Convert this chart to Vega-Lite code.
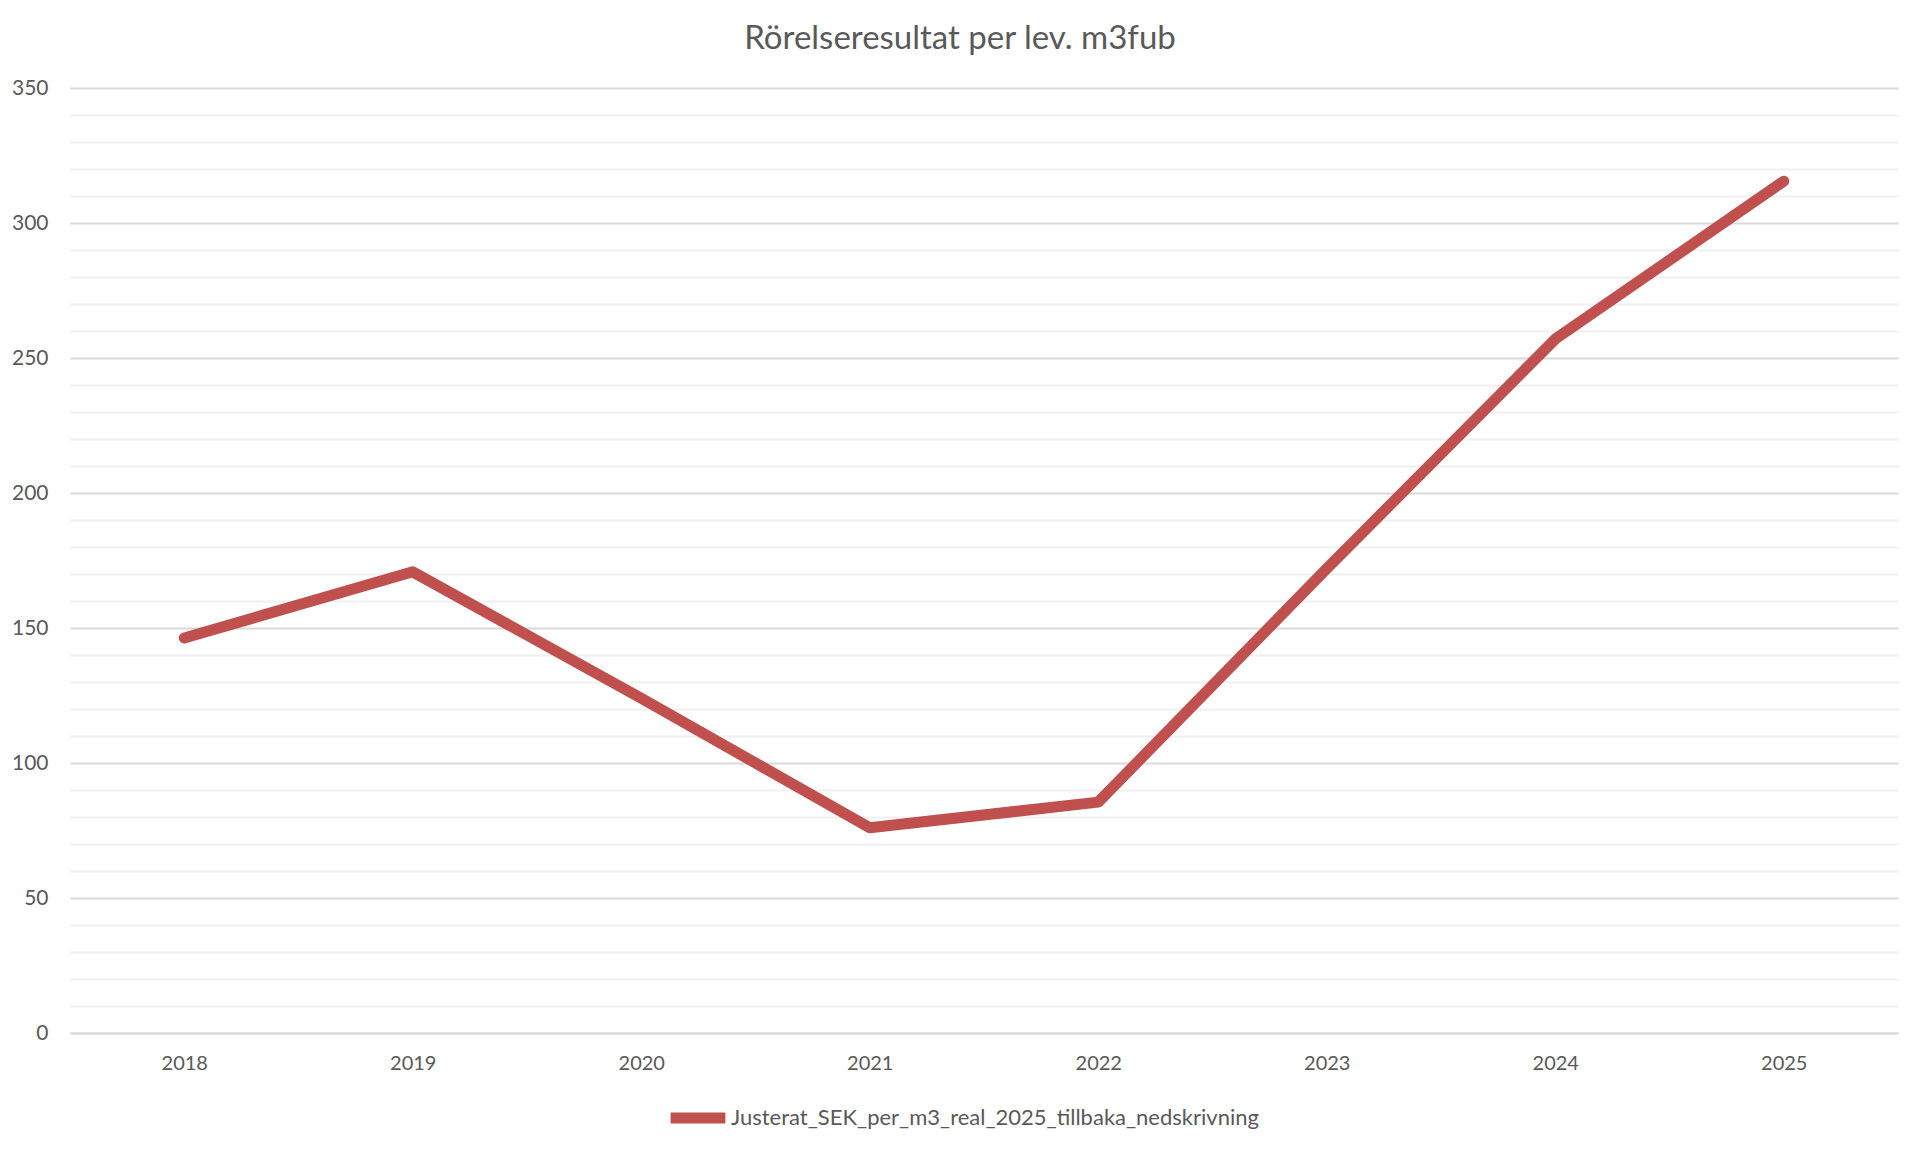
{
  "$schema": "https://vega.github.io/schema/vega-lite/v6.json",
  "autosize": {"type": "none"},
  "width": 1828,
  "height": 945,
  "padding": {"left": 70, "top": 88, "right": 22, "bottom": 117},
  "background": "white",
  "title": {
    "text": "Rörelseresultat per lev. m3fub",
    "font": "Lato",
    "fontSize": 33,
    "fontWeight": "normal",
    "color": "#595959",
    "anchor": "middle",
    "dx": -24,
    "offset": 21
  },
  "config": {
    "view": {"stroke": null},
    "font": "Lato"
  },
  "data": {
    "values": [
      {"year": "2018", "value": 146.3, "series": "Justerat_SEK_per_m3_real_2025_tillbaka_nedskrivning"},
      {"year": "2019", "value": 170.8, "series": "Justerat_SEK_per_m3_real_2025_tillbaka_nedskrivning"},
      {"year": "2020", "value": 124.0, "series": "Justerat_SEK_per_m3_real_2025_tillbaka_nedskrivning"},
      {"year": "2021", "value": 76.0, "series": "Justerat_SEK_per_m3_real_2025_tillbaka_nedskrivning"},
      {"year": "2022", "value": 85.5, "series": "Justerat_SEK_per_m3_real_2025_tillbaka_nedskrivning"},
      {"year": "2023", "value": 172.0, "series": "Justerat_SEK_per_m3_real_2025_tillbaka_nedskrivning"},
      {"year": "2024", "value": 257.0, "series": "Justerat_SEK_per_m3_real_2025_tillbaka_nedskrivning"},
      {"year": "2025", "value": 315.5, "series": "Justerat_SEK_per_m3_real_2025_tillbaka_nedskrivning"}
    ]
  },
  "layer": [
    {
      "mark": {"type": "line", "opacity": 0},
      "encoding": {
        "x": {
          "field": "year", "type": "ordinal", "scale": {"padding": 0.5},
          "axis": {
            "title": null, "labelAngle": 0, "labelFont": "Lato", "labelFontSize": 20,
            "labelColor": "#595959", "labelPadding": 20, "ticks": false,
            "domainColor": "#d9d9d9", "domainWidth": 2, "grid": false
          }
        },
        "y": {
          "field": "value", "type": "quantitative",
          "scale": {"domain": [0, 350], "nice": false},
          "axis": {
            "orient": "right",
            "values": [10,20,30,40,60,70,80,90,110,120,130,140,160,170,180,190,210,220,230,240,260,270,280,290,310,320,330,340],
            "labels": false, "ticks": false, "domain": false, "title": null,
            "grid": true, "gridColor": "#f0f0f0", "gridWidth": 2
          }
        }
      }
    },
    {
      "mark": {"type": "line", "color": "#C0504D", "strokeWidth": 11, "strokeCap": "round", "strokeJoin": "round"},
      "encoding": {
        "x": {
          "field": "year", "type": "ordinal", "scale": {"padding": 0.5},
          "axis": {
            "title": null, "labelAngle": 0, "labelFont": "Lato", "labelFontSize": 20,
            "labelColor": "#595959", "labelPadding": 20, "ticks": false,
            "domainColor": "#d9d9d9", "domainWidth": 2, "grid": false
          }
        },
        "y": {
          "field": "value", "type": "quantitative",
          "scale": {"domain": [0, 350], "nice": false},
          "axis": {
            "title": null, "values": [0,50,100,150,200,250,300,350],
            "labelFont": "Lato", "labelFontSize": 21, "labelColor": "#595959",
            "labelPadding": 22, "ticks": false, "domain": false,
            "grid": true, "gridColor": "#d9d9d9", "gridWidth": 2
          }
        },
        "color": {
          "field": "series", "type": "nominal",
          "scale": {"range": ["#C0504D"]},
          "legend": {
            "title": null, "orient": "none", "legendX": 595, "legendY": 997,
            "direction": "horizontal",
            "symbolType": "stroke", "symbolStrokeWidth": 11, "symbolSize": 3000,
            "labelFont": "Lato", "labelFontSize": 22, "labelColor": "#595959",
            "labelOffset": 0, "labelLimit": 1000
          }
        }
      }
    }
  ],
  "resolve": {"axis": {"y": "independent"}}
}
